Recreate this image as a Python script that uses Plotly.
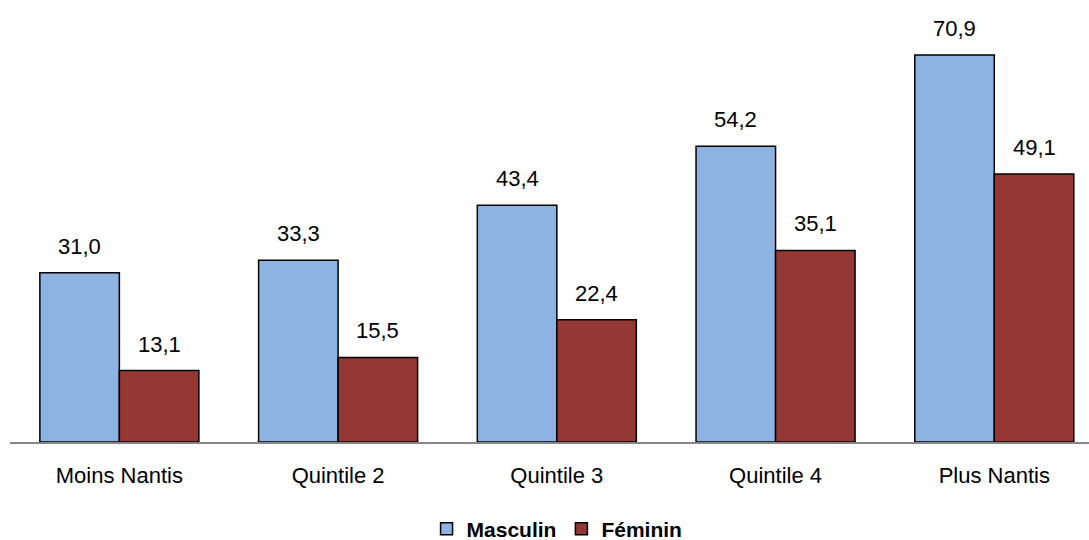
import plotly.graph_objects as go

# Catégories de quintile de bien-être et valeurs par sexe
categories = ["Moins Nantis", "Quintile 2", "Quintile 3", "Quintile 4", "Plus Nantis"]
masculin = [31.0, 33.3, 43.4, 54.2, 70.9]
feminin = [13.1, 15.5, 22.4, 35.1, 49.1]

FONT = "Liberation Sans, Arial, sans-serif"
BLUE = "#8DB3E2"
RED = "#953735"


def fmt(v):
    return f"{v:.1f}".replace(".", ",")


fig = go.Figure()
fig.add_trace(go.Bar(
    name="Masculin", x=categories, y=masculin,
    marker=dict(color=BLUE, line=dict(color="black", width=1.5)),
))
fig.add_trace(go.Bar(
    name="Féminin", x=categories, y=feminin,
    marker=dict(color=RED, line=dict(color="black", width=1.5)),
))

# Value labels above each bar
annotations = []
for series, shift in ((masculin, -39.75), (feminin, 39.75)):
    for cat, v in zip(categories, series):
        annotations.append(dict(
            x=cat, y=v, xref="x", yref="y", text=fmt(v),
            showarrow=False, xshift=shift, yshift=12, yanchor="bottom",
            font=dict(family=FONT, size=22, color="black"),
        ))

fig.update_layout(
    width=1089, height=540,
    margin=dict(l=10, r=0, t=0, b=98, autoexpand=False),
    paper_bgcolor="white", plot_bgcolor="white",
    barmode="group", bargap=0.273, bargroupgap=0,
    font=dict(family=FONT, size=22, color="black"),
    showlegend=True,
    legend=dict(
        orientation="h", x=0.507, xanchor="center", y=-0.197, yanchor="middle",
        font=dict(family=FONT, size=21, color="black", weight="bold"),
        traceorder="normal",
    ),
    annotations=annotations,
    xaxis=dict(
        range=[-0.5, 4.433], showline=True, linecolor="#868686", linewidth=2,
        ticks="", showgrid=False, zeroline=False, ticklabelstandoff=13,
        automargin=False,
        tickfont=dict(family=FONT, size=22, color="black"),
    ),
    yaxis=dict(
        range=[0, 81.0], visible=False, showgrid=False, zeroline=False,
        automargin=False,
    ),
)

fig.write_html("out.html")
